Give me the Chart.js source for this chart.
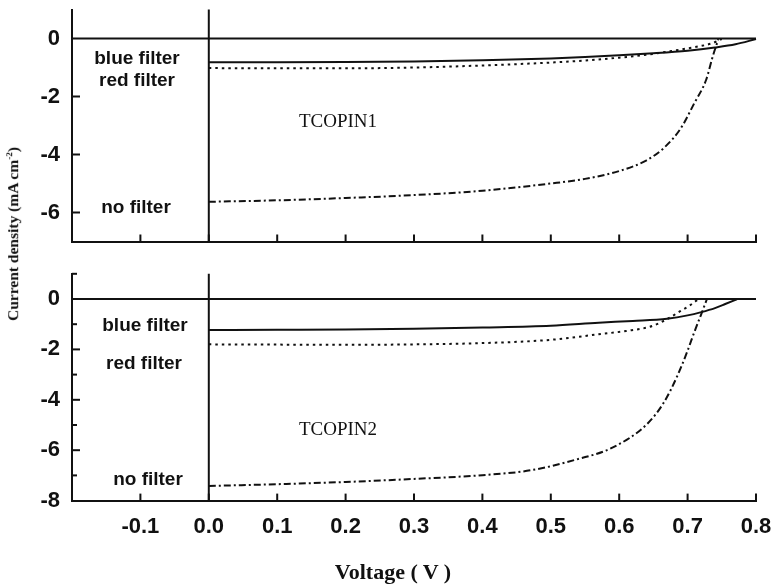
<!DOCTYPE html>
<html>
<head>
<meta charset="utf-8">
<script src="https://cdn.jsdelivr.net/npm/chart.js@4"></script>
<style>
  html,body{margin:0;padding:0;background:#fff;}
  #wrap{position:relative;width:775px;height:587px;overflow:hidden;background:#fff;}
  canvas{position:absolute;left:0;}
  .lbl{position:absolute;transform:translate(-50%,-50%);line-height:1;white-space:nowrap;color:#111;}
  .sans{font-family:"Liberation Sans",Arial,sans-serif;font-weight:bold;font-size:19px;}
  .serif{font-family:"Liberation Serif","Times New Roman",serif;font-size:19px;}
  .xt{font-family:"Liberation Serif","Times New Roman",serif;font-weight:bold;font-size:22px;}
  .yt{font-family:"Liberation Serif","Times New Roman",serif;font-weight:bold;font-size:15.5px;transform:translate(-50%,-50%) rotate(-90deg);}
</style>
</head>
<body>
<div id="wrap">
  <canvas id="top" width="775" height="250" style="top:0"></canvas>
  <canvas id="bot" width="775" height="337" style="top:250px"></canvas>
  <div class="lbl sans" style="left:137px;top:57px">blue filter</div>
  <div class="lbl sans" style="left:137px;top:79px">red filter</div>
  <div class="lbl sans" style="left:136px;top:206px">no filter</div>
  <div class="lbl serif" style="left:338px;top:120px">TCOPIN1</div>
  <div class="lbl sans" style="left:145px;top:324px">blue filter</div>
  <div class="lbl sans" style="left:144px;top:362px">red filter</div>
  <div class="lbl sans" style="left:148px;top:478px">no filter</div>
  <div class="lbl serif" style="left:338px;top:428px">TCOPIN2</div>
  <div class="lbl xt" style="left:393px;top:572px">Voltage ( V )</div>
  <div class="lbl yt" style="left:13px;top:234px">Current density (mA cm<sup style="font-size:9px">-2</sup>)</div>
</div>
<script>
// ---- axis ticks ----
const xTickValues = [-0.1, 0.0, 0.1, 0.2, 0.3, 0.4, 0.5, 0.6, 0.7, 0.8];
const yLabelsTop = [0, -2, -4, -6];
const yMajorTop = [-2, -4, -6];
const yMinorTop = [];
const yLabelsBottom = [0, -2, -4, -6, -8];
const yMajorBottom = [-2, -4, -6];
const yMinorBottom = [1, -1, -3, -5, -7];

// ---- dark (zero) line ----
const darkV = [-0.2, 0.8];
const darkJ = [0, 0];

// ---- TCOPIN1 ----
const blue1V = [0, 0.1, 0.2, 0.3, 0.4, 0.5, 0.55, 0.6, 0.65, 0.7, 0.74, 0.77, 0.8];
const blue1J = [-0.82, -0.82, -0.81, -0.79, -0.75, -0.69, -0.64, -0.58, -0.51, -0.42, -0.31, -0.2, -0.02];
const red1V = [0, 0.1, 0.2, 0.3, 0.4, 0.5, 0.55, 0.6, 0.64, 0.69, 0.71, 0.735, 0.75];
const red1J = [-1.02, -1.03, -1.03, -1.0, -0.93, -0.83, -0.76, -0.66, -0.56, -0.38, -0.3, -0.17, -0.02];
const none1V = [0, 0.1, 0.2, 0.3, 0.4, 0.5, 0.55, 0.6, 0.64, 0.665, 0.69, 0.71, 0.727, 0.737, 0.745];
const none1J = [-5.63, -5.58, -5.5, -5.4, -5.25, -5.0, -4.84, -4.57, -4.2, -3.78, -3.1, -2.22, -1.43, -0.6, -0.02];

// ---- TCOPIN2 ----
const blue2V = [0, 0.1, 0.2, 0.3, 0.4, 0.5, 0.57, 0.62, 0.67, 0.7, 0.72, 0.74, 0.755, 0.772];
const blue2J = [-1.23, -1.22, -1.21, -1.18, -1.13, -1.06, -0.94, -0.87, -0.78, -0.65, -0.52, -0.36, -0.2, -0.01];
const red2V = [0, 0.1, 0.2, 0.3, 0.4, 0.5, 0.57, 0.61, 0.645, 0.67, 0.69, 0.703, 0.715];
const red2J = [-1.8, -1.81, -1.82, -1.8, -1.75, -1.62, -1.4, -1.27, -1.1, -0.8, -0.47, -0.26, -0.02];
const none2V = [0, 0.1, 0.2, 0.3, 0.4, 0.47, 0.54, 0.59, 0.64, 0.665, 0.685, 0.7, 0.71, 0.72, 0.728];
const none2J = [-7.42, -7.35, -7.26, -7.14, -6.99, -6.8, -6.35, -5.9, -4.98, -4.12, -3.05, -2.05, -1.3, -0.6, -0.02];

const pts = (V, J) => V.map((v, i) => ({x: v, y: J[i]}));
const INK = '#111';

const inTicks = {
  id: 'inTicks',
  afterDraw(chart, args, o) {
    const {ctx, chartArea: a, scales: {x, y}} = chart;
    ctx.save();
    ctx.strokeStyle = INK;
    ctx.lineWidth = 2;
    (o.xMarks || []).forEach(v => {
      const p = x.getPixelForValue(v);
      ctx.beginPath(); ctx.moveTo(p, a.bottom); ctx.lineTo(p, a.bottom - 7); ctx.stroke();
    });
    (o.yMajor || []).forEach(v => {
      const p = y.getPixelForValue(v);
      ctx.beginPath(); ctx.moveTo(a.left, p); ctx.lineTo(a.left + 8, p); ctx.stroke();
    });
    (o.yMinor || []).forEach(v => {
      const p = y.getPixelForValue(v);
      ctx.beginPath(); ctx.moveTo(a.left, p); ctx.lineTo(a.left + 5, p); ctx.stroke();
    });
    ctx.restore();
  }
};

function line(data, dash) {
  return {
    data, borderColor: INK, borderWidth: 2, borderDash: dash || [],
    pointRadius: 0, fill: false, showLine: true,
    cubicInterpolationMode: 'monotone', clip: 4
  };
}

function makeChart(id, sets, yMin, yMax, yLabels, yMajor, yMinor, showX, pad, xHeight) {
  return new Chart(document.getElementById(id), {
    type: 'scatter',
    data: {
      datasets: [
        line(pts(darkV, darkJ)),
        line([{x: 0, y: yMax}, {x: 0, y: yMin}]),
        line(pts(sets[0][0], sets[0][1])),
        line(pts(sets[1][0], sets[1][1]), [2.5, 4]),
        line(pts(sets[2][0], sets[2][1]), [7, 3, 2, 3])
      ]
    },
    options: {
      responsive: false,
      animation: false,
      events: [],
      layout: {padding: {top: pad, right: 19, left: 0, bottom: 0}},
      plugins: {
        legend: {display: false},
        tooltip: {enabled: false},
        inTicks: {xMarks: xTickValues, yMajor, yMinor}
      },
      scales: {
        x: {
          type: 'linear', min: -0.2, max: 0.8,
          afterBuildTicks: s => { s.ticks = xTickValues.map(v => ({value: v})); },
          afterFit: s => { s.height = xHeight; s.paddingLeft = 0; s.paddingRight = 0; },
          grid: {display: false, drawTicks: false, tickLength: 0},
          border: {display: true, color: INK, width: 2},
          ticks: {
            display: showX, color: INK, padding: 13,
            font: {family: '"Liberation Sans", Arial, sans-serif', size: 22, weight: 'bold'},
            callback: v => Number(v).toFixed(1),
            maxRotation: 0, autoSkip: false
          }
        },
        y: {
          type: 'linear', min: yMin, max: yMax,
          afterBuildTicks: s => { s.ticks = yLabels.map(v => ({value: v})); },
          afterFit: s => { s.width = 72; s.paddingTop = 0; s.paddingBottom = 0; },
          grid: {display: false, drawTicks: false, tickLength: 0},
          border: {display: true, color: INK, width: 2},
          ticks: {
            color: INK, padding: 12,
            font: {family: '"Liberation Sans", Arial, sans-serif', size: 22, weight: 'bold'},
            callback: v => String(v), autoSkip: false
          }
        }
      }
    },
    plugins: [inTicks]
  });
}

makeChart('top',
  [[blue1V, blue1J], [red1V, red1J], [none1V, none1J]],
  -7, 1, yLabelsTop, yMajorTop, yMinorTop, false, 9.5, 8.5);
makeChart('bot',
  [[blue2V, blue2J], [red2V, red2J], [none2V, none2J]],
  -8, 1, yLabelsBottom, yMajorBottom, yMinorBottom, true, 23.8, 86.4);
</script>
</body>
</html>
